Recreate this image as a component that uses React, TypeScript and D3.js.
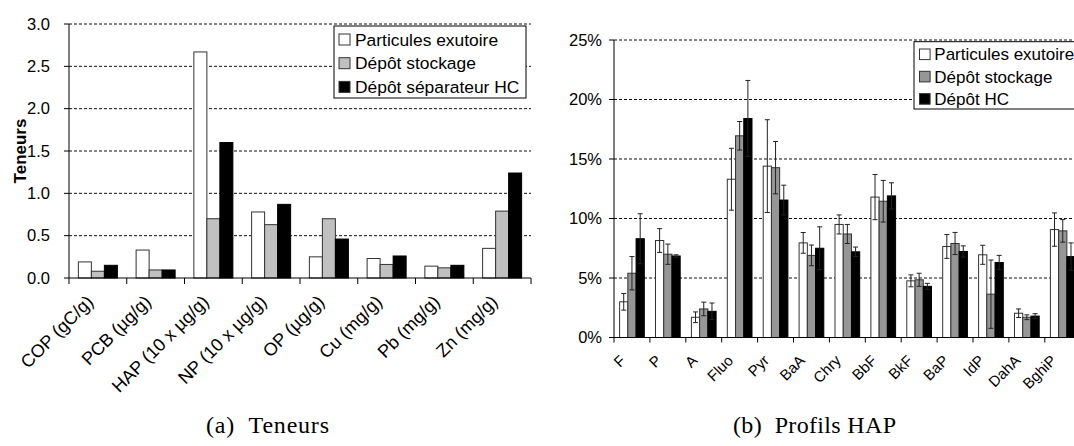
import React from "react";
import * as d3 from "d3";

const teneurCats = ["COP (gC/g)", "PCB (µg/g)", "HAP (10 x µg/g)", "NP (10 x µg/g)", "OP (µg/g)", "Cu (mg/g)", "Pb (mg/g)", "Zn (mg/g)"];
const particules = [0.19, 0.33, 2.67, 0.78, 0.25, 0.23, 0.14, 0.35];
const stockage = [0.08, 0.095, 0.7, 0.63, 0.7, 0.16, 0.12, 0.79];
const separateur = [0.15, 0.095, 1.6, 0.87, 0.46, 0.26, 0.15, 1.24];
const teneurTicks = [0, 0.5, 1, 1.5, 2, 2.5, 3];
const teneurSeries = ["Particules exutoire", "Dépôt stockage", "Dépôt séparateur HC"];

const hapCats = ["F", "P", "A", "Fluo", "Pyr", "BaA", "Chry", "BbF", "BkF", "BaP", "IdP", "DahA", "BghiP"];
const partHap = [3.0, 8.15, 1.7, 13.3, 14.4, 7.95, 9.5, 11.8, 4.76, 7.65, 6.95, 2.04, 9.07];
const partErr = [0.7, 1.0, 0.45, 2.6, 3.9, 0.87, 0.8, 1.9, 0.5, 1.0, 0.8, 0.36, 1.4];
const stockHap = [5.4, 7.0, 2.4, 16.95, 14.27, 6.9, 8.7, 11.45, 4.85, 7.9, 3.64, 1.7, 8.96];
const stockErr = [1.4, 0.85, 0.57, 1.2, 2.2, 0.87, 0.8, 1.75, 0.55, 0.93, 2.87, 0.2, 0.95];
const hcHap = [8.3, 6.85, 2.2, 18.4, 11.55, 7.5, 7.2, 11.9, 4.3, 7.23, 6.3, 1.8, 6.8];
const hcErr = [2.1, 0.1, 0.7, 3.2, 1.25, 1.8, 0.4, 1.1, 0.25, 0.47, 0.6, 0.2, 1.15];
const hapTicks = [0, 5, 10, 15, 20, 25];
const hapSeries = ["Particules exutoire", "Dépôt stockage", "Dépôt HC"];

const FONT = "Liberation Sans, Arial, Helvetica, sans-serif";
const SERIF = "Liberation Serif, Times New Roman, serif";

function TeneursChart() {
  const x0 = 69, x1 = 531, yTop = 24, yBot = 278;
  const x = d3.scaleBand<string>().domain(teneurCats).range([x0, x1]).padding(0);
  const xs = d3.scaleBand<number>().domain([0, 1, 2]).range([0, x.bandwidth()]).paddingInner(0).paddingOuter(0.72);
  const y = d3.scaleLinear().domain([0, 3]).range([yBot, yTop]);
  const series = [particules, stockage, separateur];
  const fills = ["#ffffff", "#c0c0c0", "#000000"];
  const bounds = [...teneurCats.map((c) => x(c)!), x1];
  return (
    <g>
      {teneurTicks.filter((t) => t > 0).map((t) => (
        <line key={"g" + t} x1={x0} x2={x1} y1={y(t)} y2={y(t)} stroke="#111" strokeDasharray="3,2" strokeWidth={1} />
      ))}
      {teneurTicks.map((t) => (
        <g key={"t" + t}>
          <line x1={x0 - 5} x2={x0} y1={y(t)} y2={y(t)} stroke="#000" />
          <text x={x0 - 19} y={y(t)} dy="0.35em" textAnchor="end" fontSize={16.5} fontFamily={FONT} fill="#000">
            {d3.format(".1f")(t)}
          </text>
        </g>
      ))}
      {teneurCats.map((c, i) => (
        <g key={c}>
          {series.map((s, k) => (
            <rect key={k} x={x(c)! + xs(k)!} y={y(s[i])} width={xs.bandwidth()} height={yBot - y(s[i])}
              fill={fills[k]} stroke={k === 2 ? "#000" : "#333"} strokeWidth={1} />
          ))}
        </g>
      ))}
      <line x1={x0} x2={x0} y1={yTop} y2={yBot} stroke="#000" />
      <line x1={x0} x2={x1} y1={yBot} y2={yBot} stroke="#000" />
      {bounds.map((b, i) => (
        <line key={"xt" + i} x1={b} x2={b} y1={yBot} y2={yBot + 6} stroke="#000" />
      ))}
      {teneurCats.map((c) => {
        const cx = x(c)! + x.bandwidth() / 2;
        return (
          <text key={"l" + c} transform={`translate(${cx - 3.5},${yBot + 25}) rotate(-45)`} textAnchor="end"
            fontSize={18} fontFamily={FONT} fill="#000">{c}</text>
        );
      })}
      <text transform={`translate(25.5,151) rotate(-90)`} textAnchor="middle" fontSize={17} fontWeight="bold" fontFamily={FONT} fill="#000">Teneurs</text>
      <g>
        <rect x={334} y={26} width={192} height={72} fill="#fff" stroke="#000" strokeWidth={1} />
        {teneurSeries.map((s, k) => (
          <g key={s}>
            <rect x={339} y={39.5 + k * 23.7 - 5.5} width={11} height={11} fill={fills[k]} stroke="#333" />
            <text x={355} y={39.5 + k * 23.7} dy="0.35em" fontSize={17.4} fontFamily={FONT} fill="#000">{s}</text>
          </g>
        ))}
      </g>
      <text x={206} y={433} fontSize={24} fontFamily={SERIF} fill="#000" textLength={123} lengthAdjust="spacing">{"(a)\u00a0\u00a0Teneurs"}</text>
    </g>
  );
}

function HapChart() {
  const x0 = 614, x1 = 614 + 13 * 35.9, yTop = 40, yBot = 337.5;
  const x = d3.scaleBand<string>().domain(hapCats).range([x0, x1]).padding(0);
  const xs = d3.scaleBand<number>().domain([0, 1, 2]).range([0, x.bandwidth()]).paddingInner(0).paddingOuter(0.68);
  const y = d3.scaleLinear().domain([0, 25]).range([yBot, yTop]);
  const series = [partHap, stockHap, hcHap];
  const errs = [partErr, stockErr, hcErr];
  const fills = ["#ffffff", "#969696", "#000000"];
  const bounds = [...hapCats.map((c) => x(c)!), x1];
  return (
    <g>
      {hapTicks.filter((t) => t > 0).map((t) => (
        <line key={"g" + t} x1={x0} x2={x1} y1={y(t)} y2={y(t)} stroke="#111" strokeDasharray="3,2" strokeWidth={1} />
      ))}
      {hapTicks.map((t) => (
        <g key={"t" + t}>
          <line x1={x0 - 5} x2={x0} y1={y(t)} y2={y(t)} stroke="#000" />
          <text x={x0 - 12} y={y(t)} dy="0.35em" textAnchor="end" fontSize={16.5} fontFamily={FONT} fill="#000">
            {t + "%"}
          </text>
        </g>
      ))}
      {hapCats.map((c, i) => (
        <g key={c}>
          {series.map((s, k) => {
            const bx = x(c)! + xs(k)!;
            const cx = bx + xs.bandwidth() / 2;
            const hi = y(s[i] + errs[k][i]);
            const lo = y(Math.max(0, s[i] - errs[k][i]));
            return (
              <g key={k}>
                <rect x={bx} y={y(s[i])} width={xs.bandwidth()} height={yBot - y(s[i])}
                  fill={fills[k]} stroke={k === 2 ? "#000" : "#333"} strokeWidth={1} />
                <line x1={cx} x2={cx} y1={hi} y2={lo} stroke="#222" strokeWidth={1} />
                <line x1={cx - 2.5} x2={cx + 2.5} y1={hi} y2={hi} stroke="#222" strokeWidth={1} />
                <line x1={cx - 2.5} x2={cx + 2.5} y1={lo} y2={lo} stroke="#222" strokeWidth={1} />
              </g>
            );
          })}
        </g>
      ))}
      <line x1={x0} x2={x0} y1={yTop} y2={yBot} stroke="#000" />
      <line x1={x0} x2={x1} y1={yBot} y2={yBot} stroke="#000" />
      {bounds.map((b, i) => (
        <line key={"xt" + i} x1={b} x2={b} y1={yBot} y2={yBot + 5} stroke="#000" />
      ))}
      {hapCats.map((c) => {
        const cx = x(c)! + x.bandwidth() / 2;
        return (
          <text key={"l" + c} transform={`translate(${cx - 5.5},${yBot + 24}) rotate(-45)`} textAnchor="end"
            fontSize={15} fontFamily={FONT} fill="#000">{c}</text>
        );
      })}
      <g>
        <rect x={914} y={41.7} width={170} height={67.3} fill="#fff" stroke="#000" strokeWidth={1} />
        {hapSeries.map((s, k) => (
          <g key={s}>
            <rect x={919.5} y={54.3 + k * 22.3 - 5.3} width={10.6} height={10.6} fill={fills[k]} stroke="#333" />
            <text x={934.3} y={54.3 + k * 22.3} dy="0.35em" fontSize={17} fontFamily={FONT} fill="#000">{s}</text>
          </g>
        ))}
      </g>
      <text x={733} y={433} fontSize={24} fontFamily={SERIF} fill="#000" textLength={163} lengthAdjust="spacing">{"(b)\u00a0\u00a0Profils HAP"}</text>
    </g>
  );
}

export default function App() {
  return (
    <svg width={1074} height={446} style={{ position: "absolute", left: 0, top: 0, background: "#fff" }}>
      <rect x={0} y={0} width={1074} height={446} fill="#fff" />
      <TeneursChart />
      <HapChart />
    </svg>
  );
}
